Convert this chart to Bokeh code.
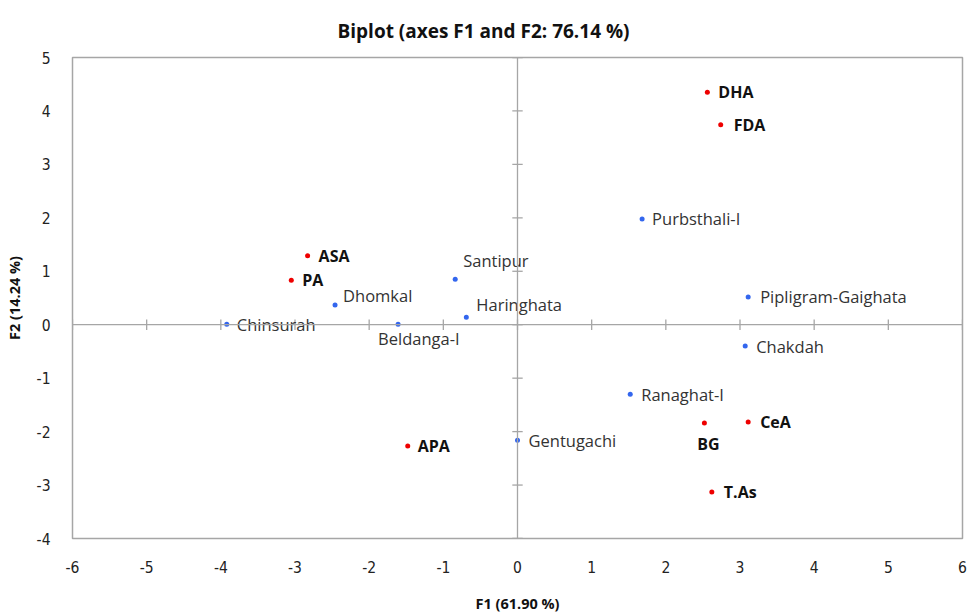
from bokeh.plotting import figure
from bokeh.models import ColumnDataSource, Span, FixedTicker, CustomJSTickFormatter
from bokeh.embed import file_html
from bokeh.resources import INLINE
from bokeh.core.properties import value

# Observations (red, bold labels)
obs_names = ["DHA", "FDA", "ASA", "PA", "APA", "BG", "CeA", "T.As"]
obs_f1 = [2.56, 2.74, -2.83, -3.05, -1.48, 2.52, 3.11, 2.62]
obs_f2 = [4.35, 3.74, 1.29, 0.83, -2.27, -1.84, -1.82, -3.13]

# Variables (blue, regular labels)
var_names = ["Purbsthali-I", "Santipur", "Dhomkal", "Haringhata", "Chinsurah",
             "Beldanga-I", "Pipligram-Gaighata", "Chakdah", "Ranaghat-I", "Gentugachi"]
var_f1 = [1.68, -0.84, -2.46, -0.69, -3.92, -1.61, 3.11, 3.07, 1.52, 0.0]
var_f2 = [1.98, 0.85, 0.37, 0.14, 0.01, 0.01, 0.52, -0.40, -1.30, -2.16]

x_ticks = [-6, -5, -4, -3, -2, -1, 0, 1, 2, 3, 4, 5, 6]
y_ticks = [-4, -3, -2, -1, 0, 1, 2, 3, 4, 5]

# label offsets (pixels) - styling only
obs_dx = [11, 13, 11, 11, 10, 4, 12, 12]
obs_dy = [0, 0, 0, 0, 0, 21, 0, 0]
obs_align = ["left"] * 5 + ["center"] + ["left"] * 2
var_dx = [10, 8, 8, 10, 10, -20, 12, 11, 11, 11]
var_dy = [0, -19, -9, -13, 0, 14, 0, 0, 0, 0]

obs_src = ColumnDataSource(dict(x=obs_f1, y=obs_f2, name=obs_names,
                                dx=obs_dx, dy=obs_dy, align=obs_align))
var_src = ColumnDataSource(dict(x=var_f1, y=var_f2, name=var_names,
                                dx=var_dx, dy=var_dy))

p = figure(frame_width=890, frame_height=481, output_backend="svg", toolbar_location=None,
           x_range=(-6, 6), y_range=(-4, 5),
           min_border_left=72, min_border_right=6, min_border_top=57, min_border_bottom=67)

p.title.text = "Biplot (axes F1 and F2: 76.14 %)"
p.title.align = "left"
p.title.offset = 265
p.title.text_font = "Open Sans"
p.title.text_font_size = "19px"
p.title.text_font_style = "bold"
p.title.text_color = "#111111"
p.title.standoff = 28

p.outline_line_color = "#a6a6a6"
p.outline_line_width = 1.5
p.grid.visible = False
p.background_fill_color = "white"
p.border_fill_color = "white"

fmt = CustomJSTickFormatter(code="return tick.toString();")
for ax in (p.xaxis[0], p.yaxis[0]):
    ax.axis_line_color = None
    ax.major_tick_line_color = None
    ax.minor_tick_line_color = None
    ax.formatter = fmt
    ax.major_label_text_font = "DejaVu Sans Condensed"
    ax.major_label_text_font_size = "15.5px"
    ax.major_label_text_color = "#222222"
    ax.axis_label_text_font = "Open Sans"
    ax.axis_label_text_font_size = "14.5px"
    ax.axis_label_text_font_style = "bold"
    ax.axis_label_text_color = "#111111"

p.xaxis.ticker = FixedTicker(ticks=x_ticks)
p.yaxis.ticker = FixedTicker(ticks=y_ticks)
p.xaxis.axis_label = "F1 (61.90 %)"
p.yaxis.axis_label = "F2 (14.24 %)"
p.xaxis.major_label_standoff = 16
p.yaxis.major_label_standoff = 16
p.xaxis.axis_label_standoff = 18
p.yaxis.axis_label_standoff = 10

# zero lines
p.add_layout(Span(location=0, dimension="width", line_color="#a6a6a6", line_width=1.3))
p.add_layout(Span(location=0, dimension="height", line_color="#a6a6a6", line_width=1.3))

# cross tick marks on the zero lines
p.segment(x0=x_ticks, x1=x_ticks, y0=[-0.1] * len(x_ticks), y1=[0.1] * len(x_ticks),
          line_color="#a6a6a6", line_width=1.3)
p.segment(x0=[-0.07] * len(y_ticks), x1=[0.07] * len(y_ticks), y0=y_ticks, y1=y_ticks,
          line_color="#a6a6a6", line_width=1.3)

# points
p.scatter("x", "y", source=var_src, size=5, color="#3366ee", line_color=None)
p.scatter("x", "y", source=obs_src, size=5, color="#ee0000", line_color=None)

# labels
p.text("x", "y", text="name", source=var_src, x_offset="dx", y_offset="dy",
       text_font=value("Open Sans"), text_font_size="16.5px", text_color="#333333",
       text_baseline="middle", text_align="left")
p.text("x", "y", text="name", source=obs_src, x_offset="dx", y_offset="dy",
       text_font=value("Open Sans"), text_font_size="16px", text_font_style="bold",
       text_color="#111111", text_baseline="middle", text_align="align")

open("out.html", "w").write(file_html(p, INLINE))
